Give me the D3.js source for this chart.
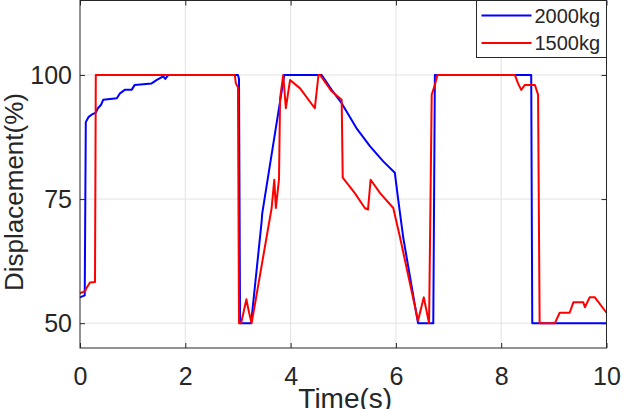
<!DOCTYPE html>
<html>
<head>
<meta charset="utf-8">
<script src="https://cdn.jsdelivr.net/npm/d3@7"></script>
<style>
  body { margin: 0; background: #fff; }
  text { font-family: "Liberation Sans", Arial, sans-serif; fill: #262626; }
</style>
</head>
<body>
<svg id="chart" width="630" height="409"></svg>
<script>
// series: [time (s), displacement (%)]
var heavyT = [0, 0.09, 0.11, 0.16, 0.22, 0.30, 0.34, 0.40, 0.44, 0.70, 0.76, 0.85, 0.98, 1.04, 1.36, 1.46, 1.58, 1.62, 1.68,
              3.00, 3.02, 3.04, 3.25, 3.45, 3.46, 3.88, 4.59, 4.78, 4.97, 5.25, 5.51, 5.76, 5.98, 6.04, 6.14, 6.42,
              6.71, 6.74, 8.57, 8.59, 10];
var heavyV = [55.2, 55.6, 90.5, 91.5, 92.0, 92.4, 93.3, 94.0, 95.0, 95.3, 96.3, 97.0, 97.0, 98.0, 98.3, 99.0, 99.7, 99.2, 100,
              100, 99.2, 50, 50, 70.5, 72.0, 100, 100, 97.0, 94.3, 89.3, 85.6, 82.6, 80.3, 75.2, 67.2, 50,
              50, 100, 100, 50, 50];

var lightT = [0, 0.10, 0.13, 0.19, 0.285, 0.30, 2.94, 2.96, 3.00, 3.02, 3.06, 3.16, 3.21, 3.26, 3.64, 3.69, 3.72, 3.78,
              3.80, 3.86, 3.91, 3.99, 4.18, 4.46, 4.53, 4.56, 4.78, 4.97, 4.99, 5.22, 5.41, 5.47, 5.52, 5.70, 5.95,
              6.08, 6.42, 6.53, 6.63, 6.68, 6.74, 6.79, 8.26, 8.32, 8.38, 8.45, 8.64, 8.70, 8.73, 9.02, 9.11, 9.30,
              9.37, 9.56, 9.59, 9.68, 9.78, 10];
var lightV = [56.0, 56.5, 57.2, 58.2, 58.3, 100, 100, 98.3, 97.5, 50, 50, 54.8, 52.2, 50, 73.2, 78.9, 73.2, 79.0,
              95.3, 100, 93.3, 99.0, 97.3, 93.3, 100, 100, 96.7, 95.0, 79.3, 76.2, 73.2, 72.9, 78.9, 76.2, 73.2,
              67.2, 50.5, 55.2, 50, 96.0, 98.0, 100, 100, 98.3, 97.0, 98.0, 98.0, 96.0, 50, 50, 52.1, 52.1,
              54.2, 54.2, 53.2, 55.2, 55.2, 52.1];

var seriesNames = ["2000kg", "1500kg"];
var seriesColors = ["#0000ff", "#ff0000"];
var xTicks = [0, 2, 4, 6, 8, 10];
var yTicks = [50, 75, 100];

(function() {
  var svg = d3.select("#chart"),
      margin = {top: 0.5, right: 23.5, bottom: 61, left: 80},
      width = +svg.attr("width") - margin.left - margin.right,
      height = +svg.attr("height") - margin.top - margin.bottom,
      g = svg.append("g").attr("transform", "translate(" + margin.left + "," + margin.top + ")");

  var x = d3.scaleLinear().domain([0, 10]).range([0, width]);
  var y = d3.scaleLinear().domain([45, 115]).range([height, 0]);

  // grid
  g.append("g").selectAll("line.vg")
    .data(xTicks.slice(1, -1))
    .enter().append("line")
      .attr("x1", x).attr("x2", x)
      .attr("y1", 0).attr("y2", height)
      .attr("stroke", "#e3e3e3").attr("stroke-width", 1);
  g.append("g").selectAll("line.hg")
    .data(yTicks)
    .enter().append("line")
      .attr("y1", y).attr("y2", y)
      .attr("x1", 0).attr("x2", width)
      .attr("stroke", "#e3e3e3").attr("stroke-width", 1);

  // data lines
  var line = d3.line()
      .x(function(d) { return x(d[0]); })
      .y(function(d) { return y(d[1]); });

  var series = [d3.zip(heavyT, heavyV), d3.zip(lightT, lightV)];
  g.selectAll(".series")
    .data(series)
    .enter().append("path")
      .attr("class", "series")
      .attr("fill", "none")
      .attr("stroke", function(d, i) { return seriesColors[i]; })
      .attr("stroke-width", 2)
      .attr("stroke-linejoin", "round")
      .attr("d", line);

  // axes, MATLAB style: inward ticks on all four sides
  var xAxis = g.append("g")
      .attr("transform", "translate(0," + height + ")")
      .call(d3.axisBottom(x).tickValues(xTicks).tickSize(-5).tickSizeOuter(0));
  xAxis.selectAll("text")
      .attr("y", 36.5).attr("dy", 0)
      .style("font-size", "25px");

  g.append("g")
      .call(d3.axisTop(x).tickValues(xTicks).tickSize(-5).tickFormat(""));

  var yAxis = g.append("g")
      .call(d3.axisLeft(y).tickValues(yTicks).tickSize(-5).tickSizeOuter(0));
  yAxis.selectAll("text")
      .attr("x", -8).attr("dy", "0.35em")
      .style("font-size", "25px");

  g.append("g")
      .attr("transform", "translate(" + width + ",0)")
      .call(d3.axisRight(y).tickValues(yTicks).tickSize(-5).tickFormat(""));

  g.selectAll(".domain").remove();
  g.selectAll(".tick line").attr("stroke", "#262626");

  g.append("rect")
      .attr("width", width).attr("height", height)
      .attr("fill", "none")
      .attr("stroke", "#262626")
      .attr("stroke-width", 1);

  // axis labels
  svg.append("text")
      .attr("x", margin.left + width / 2 + 2)
      .attr("y", 408)
      .attr("text-anchor", "middle")
      .style("font-size", "28px")
      .text("Time(s)");

  svg.append("text")
      .attr("transform", "translate(23,192) rotate(-90)")
      .attr("text-anchor", "middle")
      .style("font-size", "26px")
      .text("Displacement(%)");

  // legend
  var lg = g.append("g")
      .attr("transform", "translate(" + (width - 130) + ",0)");
  lg.append("rect")
      .attr("width", 130).attr("height", 57)
      .attr("fill", "#fff")
      .attr("stroke", "#262626")
      .attr("stroke-width", 1);
  var item = lg.selectAll(".legend")
    .data(seriesNames)
    .enter().append("g")
      .attr("class", "legend")
      .attr("transform", function(d, i) { return "translate(0," + (15 + i * 27.5) + ")"; });
  item.append("line")
      .attr("x1", 5).attr("x2", 55)
      .attr("stroke", function(d, i) { return seriesColors[i]; })
      .attr("stroke-width", 2);
  item.append("text")
      .attr("x", 58)
      .attr("dy", "0.36em")
      .style("font-size", "20px")
      .text(function(d) { return d; });
})();
</script>
</body>
</html>
